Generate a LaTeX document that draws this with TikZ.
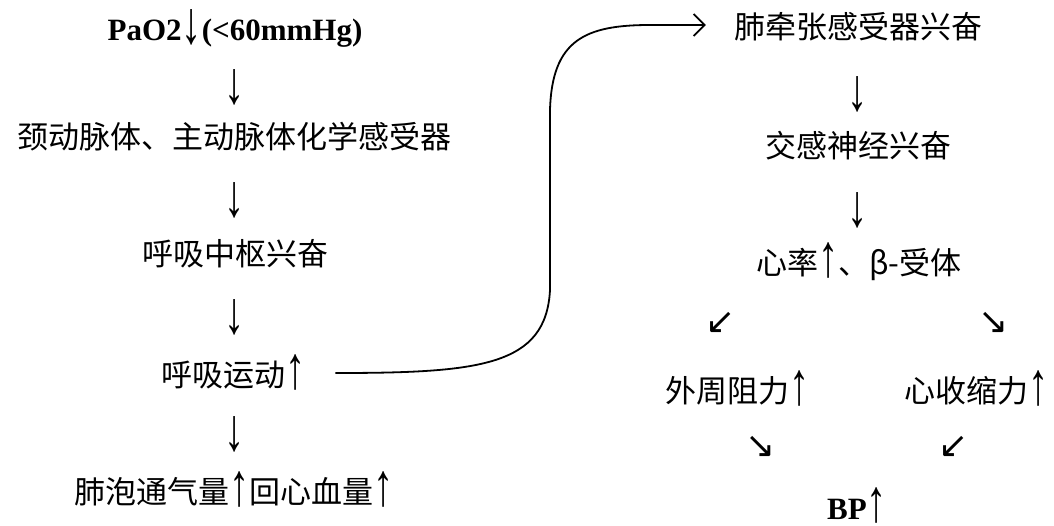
\documentclass[tikz,border=0pt]{standalone}
\usepackage{fontspec}
\usepackage{graphicx}
\setmainfont{Liberation Serif}
\newfontfamily\cjk{Noto Sans CJK SC}
\newfontfamily\symb{DejaVu Sans}
\usetikzlibrary{arrows.meta}
\newcommand\uparr{\raisebox{-2pt}{\scalebox{1.3}[1.95]{\rmfamily\mdseries ↑}}}
\newcommand\dnarr{\scalebox{1.3}[1.95]{\rmfamily\mdseries ↓}}

\begin{document}
\begin{tikzpicture}[x=1pt,y=-1pt]
\tikzstyle{every node}=[inner sep=0pt,font=\fontsize{31}{31}\selectfont]
\tikzstyle{cn}=[font=\cjk\fontsize{31}{31}\selectfont]
\tikzstyle{bold}=[font=\bfseries\fontsize{31}{31}\selectfont]
\tikzstyle{dn}=[font=\fontsize{31}{31}\selectfont]
\tikzstyle{diag}=[font=\symb\fontsize{36}{36}\selectfont]
\tikzstyle{flow}=[line width=1.8pt,-{Straight Barb[length=11pt,width=22pt,line width=1.8pt]}]

% white page with the reference's margins
\useasboundingbox (0,0) rectangle (1054,525);

% left column: chemoreceptor path
\node[bold] (pao2) at (235,28) {PaO2{\mdseries\raisebox{-3pt}{\dnarr}}(<60mmHg)};
\node[dn] (d1) at (235,87) {\dnarr};
\node[cn] (chemo) at (234,137) {颈动脉体、主动脉体化学感受器};
\node[dn] (d2) at (235,200) {\dnarr};
\node[cn] (centre) at (235,254) {呼吸中枢兴奋};
\node[dn] (d3) at (235,317) {\dnarr};
\node[cn] (resp) at (234,372) {呼吸运动\uparr};
\node[dn] (d4) at (235,434) {\dnarr};
\node[cn] (vent) at (234,489) {肺泡通气量\uparr 回心血量\uparr};

% right column: stretch receptor path
\node[cn] (stretch) at (858,27) {肺牵张感受器兴奋};
\node[dn] (d5) at (858,94) {\dnarr};
\node[cn] (symp) at (858,146) {交感神经兴奋};
\node[dn] (d6) at (858,210) {\dnarr};
\node[cn] (hr) at (859,262) {心率\uparr 、β-受体};
\node[diag] (sw1) at (721,323) {↙};
\node[diag] (se1) at (994,323) {↘};
\node[cn] (resist) at (738,388) {外周阻力\uparr};
\node[cn] (contr) at (977,388) {心收缩力\uparr};
\node[diag] (se2) at (761,447) {↘};
\node[diag] (sw2) at (954,447) {↙};
\node[bold] (bp) at (857,505) {BP\uparr};

% curved link between the two columns
\draw[flow] (resp.east) ++(29,1) .. controls (480,373) and (546,366) .. (550,290)
  -- (550,110) .. controls (552,40) and (585,25) .. (650,25)
  -- ([xshift=-28pt,yshift=2pt]stretch.west);

\end{tikzpicture}
\end{document}
